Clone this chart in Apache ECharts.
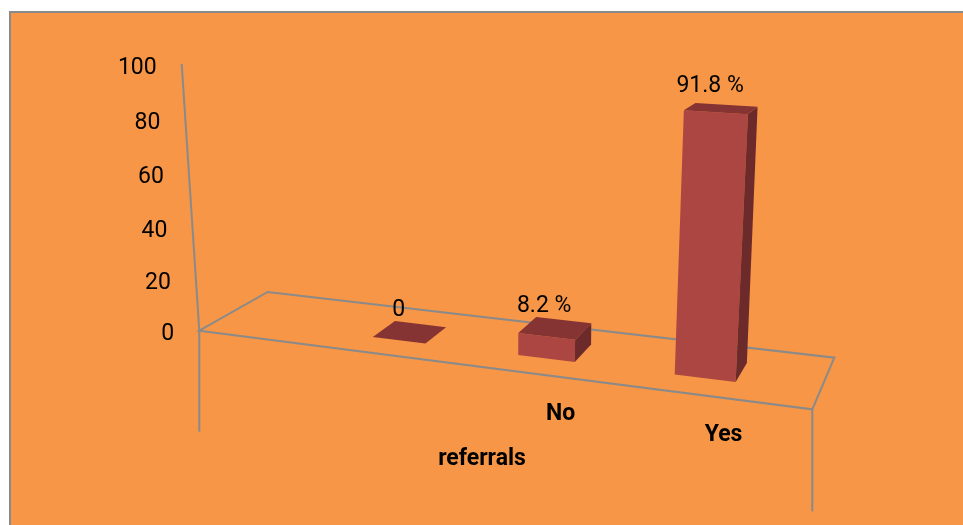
<!DOCTYPE html>
<html>
<head>
<meta charset="utf-8">
<script src="https://cdn.jsdelivr.net/npm/echarts@6/dist/echarts.min.js"></script>
<style>
  html, body { margin: 0; padding: 0; background: #ffffff; }
  #chart { width: 963px; height: 525px; }
</style>
</head>
<body>
<div id="chart"></div>
<script>
// Referral answers (percent). The first slot on the floor is an empty category.
const CATEGORIES = ['', '', 'No', 'Yes'];
const VALUES = [null, 0, 8.2, 91.8];
const TICKS = [0, 20, 40, 60, 80, 100];
const AXIS_TITLE = 'referrals';

// ---- 3D look: floor quad on screen + vertical vector model ----
const FLOOR = { fl: [199.3, 330.7], fr: [812.3, 409.3], br: [834.3, 357.7], bl: [267.7, 292] };
const UP = { x0: -17.6, xu: 37, xd: -4.5, y0: -266.7, yu: -41.2, yd: 32.6 }; // screen vector for a full-height (100) pole
const PERSP = 0.044;          // upper part of the poles slightly stretched
const U0 = -0.0485, U_SPAN = 1.004; // grid x -> floor u
const BAR_FRAC = 0.37;        // bar width as a share of a category
const D0 = 0.306, D1 = 0.687; // bar depth on the floor
const COLORS = {
  panel: '#F79646', border: '#8A8A8A', line: '#8A8A8A',
  front: '#AC4643', side: '#6C2A2A', top: '#853333', text: '#000000'
};
const FONT = 'Roboto, "Liberation Sans", sans-serif';

function makeHomography(q) {
  const [x0, y0] = q.fl, [x1, y1] = q.fr, [x2, y2] = q.br, [x3, y3] = q.bl;
  const dx1 = x1 - x2, dx2 = x3 - x2, dx3 = x0 - x1 + x2 - x3;
  const dy1 = y1 - y2, dy2 = y3 - y2, dy3 = y0 - y1 + y2 - y3;
  const den = dx1 * dy2 - dx2 * dy1;
  const g = (dx3 * dy2 - dx2 * dy3) / den, h = (dx1 * dy3 - dx3 * dy1) / den;
  const a = x1 - x0 + g * x1, b = x3 - x0 + h * x3, c = x0;
  const d = y1 - y0 + g * y1, e = y3 - y0 + h * y3, f = y0;
  return (u, v) => {
    const w = g * u + h * v + 1;
    return [(a * u + b * v + c) / w, (d * u + e * v + f) / w];
  };
}
const floorAt = makeHomography(FLOOR);

// u: across the floor, d: depth (0 front, 1 back), t: height share (0..1)
function project(u, d, t) {
  const base = floorAt(u, d);
  const ux = UP.x0 + UP.xu * u + UP.xd * d;
  const uy = UP.y0 + UP.yu * u + UP.yd * d;
  const s = t * (1 - PERSP) / (1 - PERSP * t);
  return [base[0] + ux * s, base[1] + uy * s];
}
const uOf = (px, cs) => U0 + U_SPAN * (px - cs.x) / cs.width;
const tOf = (py, cs) => (cs.y + cs.height - py) / cs.height;

function textEl(str, x, y, opts) {
  return {
    type: 'text',
    style: Object.assign({
      text: str, x: x, y: y, fill: COLORS.text,
      fontSize: 23, fontFamily: FONT, fontWeight: 'normal',
      align: 'center', verticalAlign: 'middle'
    }, opts || {})
  };
}

const chart = echarts.init(document.getElementById('chart'));

const option = {
  animation: false,
  backgroundColor: 'transparent',
  graphic: [
    {
      type: 'rect', z: -10, silent: true,
      shape: { x: 10, y: 12, width: 1000, height: 600 },
      style: { fill: COLORS.panel, stroke: COLORS.border, lineWidth: 2 }
    },
    {
      type: 'text', z: 10, silent: true,
      style: {
        text: AXIS_TITLE, x: 482, y: 459, fill: COLORS.text,
        fontSize: 23, fontWeight: 'bold', fontFamily: FONT,
        align: 'center', verticalAlign: 'middle'
      }
    }
  ],
  grid: { left: 0, top: 0, width: 400, height: 400, show: false },
  xAxis: { type: 'category', data: CATEGORIES, boundaryGap: true, show: false },
  yAxis: { type: 'value', min: 0, max: 100, interval: 20, show: false },
  series: [
    // floor outline, value axis line and the two drop lines
    {
      type: 'custom', name: 'frame', clip: false, silent: true, z: 1,
      data: [[0, 0]],
      renderItem: function (params, api) {
        const lineStyle = { stroke: COLORS.line, lineWidth: 2, fill: null };
        const fl = project(0, 0, 0), fr = project(1, 0, 0), br = project(1, 1, 0), bl = project(0, 1, 0);
        const top = project(0, 0, 1);
        return {
          type: 'group',
          children: [
            { type: 'polygon', shape: { points: [fl, fr, br, bl] }, style: lineStyle },
            { type: 'line', shape: { x1: fl[0], y1: fl[1], x2: top[0], y2: top[1] }, style: lineStyle },
            { type: 'line', shape: { x1: fl[0], y1: fl[1], x2: fl[0], y2: fl[1] + 101 }, style: lineStyle },
            { type: 'line', shape: { x1: fr[0], y1: fr[1], x2: fr[0], y2: fr[1] + 102 }, style: lineStyle }
          ]
        };
      }
    },
    // value tick labels along the slanted axis
    {
      type: 'custom', name: 'ticks', clip: false, silent: true, z: 3,
      data: TICKS.map(v => [0, v]),
      renderItem: function (params, api) {
        const cs = params.coordSys;
        const v = api.value(1);
        const t = tOf(api.coord([0, v])[1], cs);
        const p = project(0, 0, t);
        return textEl(String(v), p[0] - 25, p[1] + 4, { align: 'right' });
      }
    },
    // category names under the front edge
    {
      type: 'custom', name: 'categories', clip: false, silent: true, z: 3,
      data: CATEGORIES.map((c, i) => [i, 0]),
      renderItem: function (params, api) {
        const cs = params.coordSys;
        const name = CATEGORIES[params.dataIndex];
        if (!name) return null;
        const u = uOf(api.coord([api.value(0), 0])[0], cs);
        const p = project(u, 0, 0);
        return textEl(name, p[0] + 29, p[1] + 41, { fontWeight: 'bold' });
      }
    },
    // 3D-looking bars with their value labels
    {
      type: 'custom', name: 'referrals', clip: false, silent: true, z: 2,
      encode: { x: 0, y: 1 },
      data: VALUES.map((v, i) => [i, v]).filter(d => d[1] !== null),
      renderItem: function (params, api) {
        const cs = params.coordSys;
        const v = api.value(1);
        const c = api.coord([api.value(0), v]);
        const uc = uOf(c[0], cs);
        const t = tOf(c[1], cs);
        const hw = api.size([1, 0])[0] / cs.width * U_SPAN * BAR_FRAC / 2;
        const u0 = uc - hw, u1 = uc + hw;
        const children = [];
        if (t > 0) {
          children.push({
            type: 'polygon',
            shape: { points: [project(u0, D0, 0), project(u1, D0, 0), project(u1, D0, t), project(u0, D0, t)] },
            style: { fill: COLORS.front }
          });
          children.push({
            type: 'polygon',
            shape: { points: [project(u1, D0, 0), project(u1, D1, 0), project(u1, D1, t), project(u1, D0, t)] },
            style: { fill: COLORS.side }
          });
        }
        children.push({
          type: 'polygon',
          shape: { points: [project(u0, D0, t), project(u1, D0, t), project(u1, D1, t), project(u0, D1, t)] },
          style: { fill: COLORS.top }
        });
        const lc = project(uc, (D0 + D1) / 2, t);
        const label = v === 0 ? '0' : v + ' %';
        children.push(textEl(label, lc[0] - 11, lc[1] - 22));
        return { type: 'group', children: children };
      }
    }
  ]
};

chart.setOption(option);
</script>
</body>
</html>
